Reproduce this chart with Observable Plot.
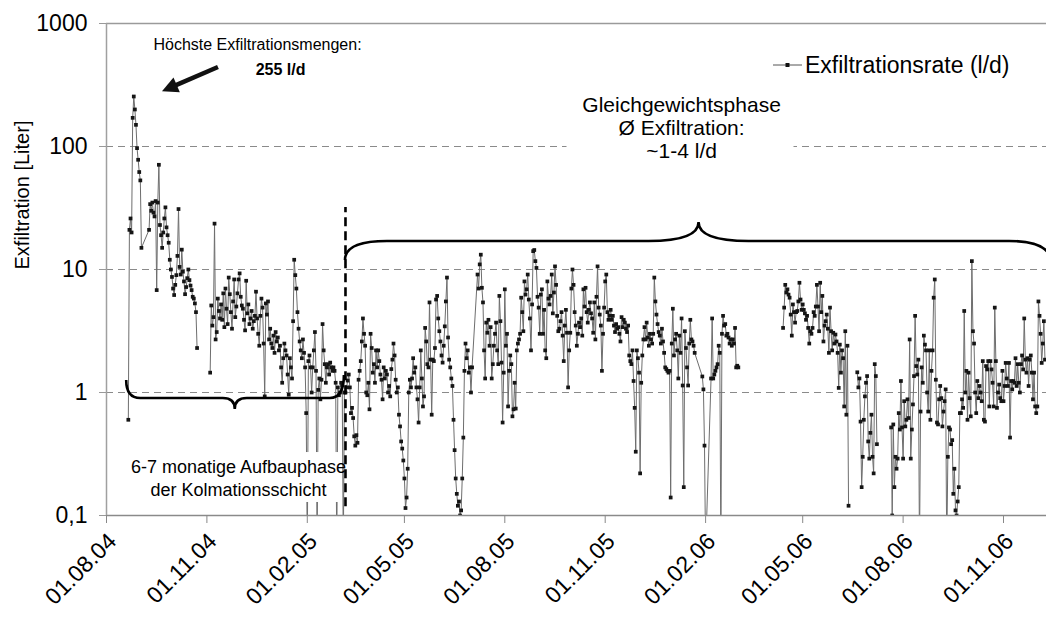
<!DOCTYPE html>
<html><head><meta charset="utf-8">
<script src="https://cdn.jsdelivr.net/npm/d3@7"></script>
<script src="https://cdn.jsdelivr.net/npm/@observablehq/plot@0.6"></script>
<style>
html,body{margin:0;padding:0;background:#fff;}
#chart{width:1046px;height:619px;}
</style></head><body><div id="chart"></div>
<script>
// ---------- data ----------
const baseDate = "2004-08-01";          // day 0 of the day offsets below
const lastDay = 861.4;                  // right end of the date axis (day offset)
const xTickDates = ["2004-08-01","2004-11-01","2005-02-01","2005-05-01","2005-08-01","2005-11-01","2006-02-01","2006-05-01","2006-08-01","2006-11-01"];
const xTickLabels = ["01.08.04","01.11.04","01.02.05","01.05.05","01.08.05","01.11.05","01.02.06","01.05.06","01.08.06","01.11.06"];
const yTicks = [0.1, 1, 10, 100, 1000];
const yTickLabels = ["0,1", "1", "10", "100", "1000"];
const seriesName = "Exfiltrationsrate (l/d)";
const yTitle = "Exfiltration [Liter]";

// [day offset from baseDate, Exfiltration in l/d]; 0.05 = below the axis (0)
const segA = [[20,0.6],[21,21],[22,26],[23,20],[24,171],[25,255],[26,200],[27,150],[28,97],[29,78],[30,62],[31,53],[32,15],
[39,21],[40,34],[41,30],[42,35],[43,29],[44,27],[45,36],[46,6.8],[47,35],[48,71],[49,23],[50,19],[51,15],[52,20],[53,26],[54,32],[55,22],[56,19],[57,16.5],[58,12],[59,10],[60,8.7],[61,7],[62,6.2],[63,7.5],[64,9],[65,12.9],[66,31],[67,10.5],[68,9.1],[69,14.5],[70,9.6],[71,8],[72,6.3],[73,7.2],[74,8.5],[75,10],[76,8.2],[77,7.4],[78,6.8],[79,6],[80,5.8],[81,5.3],[82,4.5],[83,2.3]];

const segB = [[95,1.45],[96,5.1],[97,3.5],[98,4.1],[99,23.6],[100,2.7],[101,3.1],[102,5.8],[103,4.6],[104,4.0],[105,5.2],[106,3.9],[107,6.4],[108,3.4],[109,7.0],[110,4.8],[111,3.6],[112,8.6],[113,6.3],[114,4.5],[115,3.3],[116,5.5],[117,8.3],[118,4.1],[119,5.0],[120,6.4],[121,8.3],[122,9.3],[123,6.0],[124,5.1],[125,4.8],[126,3.9],[127,3.2],[128,8.1],[129,4.4],[130,5.2],[131,3.6],[132,4.0],[133,4.6],[134,3.3],[135,3.8],[136,4.2],[137,6.6],[138,4.0],[139,3.0],[140,2.4],[141,4.2],[142,5.8],[143,4.9],[144,2.5],[145,0.93],[146,5.3],[147,4.3],[148,5.5],[149,2.7],[150,3.3],[151,2.5],[152,2.3],[153,2.9],[154,2.1],[155,3.1],[156,2.6],[157,2.8],[158,2.2],[159,2.4],[160,1.6],[161,1.2],[162,1.9],[163,2.5],[164,2.2],[165,2.0],[166,1.4],[167,0.96],[168,1.9],[169,1.6],[170,1.3],[171,3.8],[172,12],[173,9],[174,7.0],[175,4.5],[176,3.3],[177,2.6],[178,2.2],[179,1.9],[180,2.7],[181,2.1],[182,1.6],[183,0.68],[184,0.05],[185,1.8],[186,2.0],[187,1.6],[188,1.0],[189,1.6],[190,2.2],[191,3.1],[192,1.5],[193,0.05],[194,1.05],[195,1.3],[196,0.88],[197,1.27],[198,3.6],[199,2.2],[200,1.7],[201,1.2],[202,1.6],[203,1.7],[204,1.4],[205,1.75],[206,1.6],[207,1.5],[208,1.6],[209,1.5],[210,1.2],[211,0.05],[212,1.1],[213,0.95],[214,1.0],[215,1.2],[216,1.15],[217,0.05],
[218,1.0],[219,1.0],[220,1.1],[221,1.25],[222,1.4],[223,1.1],[224,0.68],[225,0.75],[226,0.62],[227,0.44],[228,0.37],[229,0.45],[230,0.39],[231,1.27],[232,1.5],[233,1.8],[234,2.6],[235,4.0],[236,3.0],[237,2.4],[238,1.0],[239,0.95],[240,1.2],[241,0.73],[242,3.0],[243,2.3],[244,1.45],[245,1.7],[246,1.2],[247,2.2],[248,1.6],[249,2.2],[250,1.8],[251,1.4],[252,1.27],[253,0.88],[254,1.6],[255,1.3],[256,1.5],[257,1.4],[258,1.0],[259,1.13],[260,0.93],[261,1.55],[262,1.85],[263,2.5],[264,2.0],[265,1.27],[266,1.0],[267,1.1],[268,0.66],[269,0.53],[270,0.4],[271,0.35],[272,0.28],[273,0.2],[274,0.115],[275,0.14],[276,0.24],[277,1.0],[278,1.27],[279,1.1],[280,1.3],[281,1.9],[282,1.45],[283,1.6],[284,1.1],[285,0.88],[286,0.57],[287,1.1],[288,2.2],[289,1.3],[290,0.77],[291,0.93],[292,3.35],[293,2.6],[294,1.7],[295,1.6],[296,5.4],[297,1.85],[298,0.66],[299,1.85],[300,1.8],[301,2.3],[302,5.7],[303,6.1],[304,4.0],[305,3.15],[306,2.6],[307,2.0],[308,1.75],[309,2.4],[310,3.45],[311,5.5],[312,8.6],[313,2.8],[314,1.85],[315,1.6],[316,1.3],[317,1.13],[318,0.6],[319,0.34],[320,0.2],[321,0.15],[322,0.12],[323,0.13],[324,0.1],[325,0.11],[326,0.2],[327,0.43],[328,1.5],[329,2.5],[330,1.9],[331,2.2],[332,1.45],[333,1.6],[334,1.0],[335,1.6],
[340,9.1],[341,7],[342,11],[343,13.2],[344,7.1],[345,5.4],[346,2.2],[347,1.3],[348,3.7],[349,3.06],[350,3.9],[351,2.4],[352,3.4],[353,1.3],[354,1.7],[355,2.4],[356,3.0],[357,3.7],[358,2.2],[359,1.7],[360,6.1],[361,3.8],[362,1.75],[363,0.57],[364,1.45],[365,6.9],[366,2.4],[367,3.0],[368,0.77],[369,1.5],[370,2.0],[371,1.7],[372,0.64],[373,0.73],[374,1.2],[375,0.74],[376,2.2],[377,2.5],[378,2.7],[379,3.0],[380,5.9],[381,4.5],[382,3.15],[383,8.0],[384,6.25],[385,6.9],[386,9.1],[387,5.7],[388,4.0],[389,2.2],[390,5.2],[391,14.1],[392,14.4],[393,11.7],[394,10.3],[395,6.0],[396,4.9],[397,3.0],[398,6.25],[399,6.9],[400,3.0],[401,4.7],[402,2.2],[403,1.9],[404,8.0],[405,5.8],[406,5.2],[407,6.1],[408,9.1],[409,4.4],[410,6.5],[411,10.6],[412,7.5],[413,4.2],[414,3.15],[415,3.3],[416,3.8],[417,4.5],[418,2.9],[419,1.8],[420,3.5],[421,4.7],[422,3.06],[423,1.1],[424,2.2],[425,3.06],[426,7.0],[427,10],[428,7.5],[429,4.5],[430,3.5],[431,2.4],[432,3.0],[433,3.7],[434,3.4],[435,4.0],[436,2.9],[437,6.9],[438,5.0],[439,7.1],[440,4.5],[441,3.7],[442,4.7],[443,5.4],[444,4.4],[445,4.0],[446,3.06],[447,5.4],[448,2.7],[449,6.0],[450,10.6],[451,4.9],[452,4.3],[453,3.5],[454,1.5],[455,3.0],[456,4.9],[457,8.0],[458,9.1],[459,4.5],[460,3.9],[461,4.2],[462,4.7],[463,3.9],[464,4.2],[465,3.5],[466,3.1],[467,3.6],[468,3.3],[469,3.4],[470,3.0],[471,2.6],[472,4.1],[473,3.4],[474,3.9],[475,3.7],[476,3.3],[477,3.1],[478,3.5],[479,2.0],[480,1.8],[481,1.7],[482,2.2],[483,1.24],[484,0.75],[485,0.33],[486,2.2],[487,1.9],[488,1.45],[489,0.22],[490,1.2],[491,2.0],[492,2.7],[493,3.4],[494,2.7],[495,3.7],[496,2.8],[497,2.4],[498,3.0],[499,2.7],[500,2.5],[501,3.0],[502,8.6],[503,5.5],[504,4.3],[505,3.6],[506,3.1],[507,2.9],[508,2.5],[509,3.3],[510,2.6],[511,2.1],[512,1.6],[513,1.55],[514,1.5],[515,1.45],[516,1.5],[517,0.14],[518,2.5],[519,4.8],[520,2.0],[521,2.7],[522,3.0],[523,2.2],[524,1.3],[525,2.9],[526,2.1],[527,4.0],[528,1.14],[529,0.17],[530,3.15],[531,2.3],[532,1.6],[533,1.14],[534,2.5],[535,3.9],[536,2.7],[537,2.6],[538,2.4],[539,2.1],
[546,1.35],[547,1.06],[548,0.37],[549,0.05],[554,1.3],[555,4.0],[556,1.3],[557,1.4],[558,1.5],[559,1.6],[560,1.7],[561,2.4],[562,2.1],[563,0.05],[564,3.0],[565,4.2],[566,3.5],[567,3.6],[568,2.9],[569,3.0],[570,2.8],[571,2.5],[572,2.7],[573,2.4],[574,2.7],[575,2.5],[576,3.35],[577,1.6],[578,1.65],[579,1.6]];

const segC1 = [[620,3.35],[621,4.9],[622,7.5],[623,6.5],[624,6.9],[625,6.25],[626,5.9],[627,4.3],[628,2.9],[629,5.2],[630,4.5],[631,3.7],[632,4.5],[633,4.6],[634,5.5],[635,7.8],[636,5.7],[637,4.7],[638,5.2],[639,4.7],[640,4.4],[641,3.9],[642,4.2],[643,3.35],[644,2.5],[645,3.15],[646,3.0],[647,3.35],[648,4.5],[649,4.2],[650,5.0],[651,7.5],[652,5.0],[653,3.15],[654,7.8],[655,4.5],[656,6.1],[657,2.6],[658,3.5],[659,3.8],[660,4.3],[661,3.3],[662,2.1],[663,4.9],[664,3.15],[665,2.2],[666,3.06],[667,2.5],[668,2.96],[669,2.6],[670,2.1],[671,1.09],[672,2.45],[673,1.45],[674,2.2],[675,1.9],[676,0.77],[677,3.15],[678,0.66],[679,2.4],[680,0.12]];

const segC2 = [[688,1.46],[689,1.1],[690,1.3],[691,0.58],[692,0.17],[693,0.3],[694,0.6],[695,0.93],[696,1.2],[697,1.36],[698,0.4],[699,0.29],[700,0.47],[701,0.66],[702,0.3],[703,0.22],[704,1.7],[705,1.36],[706,0.38]];

const segC3 = [[719,0.52],[720,0.1],[721,0.55],[722,0.17],[723,0.3],[724,0.24],[725,0.29],[726,0.68],[727,0.5],[728,1.24],[729,0.52],[730,0.29],[731,0.85],[732,0.53],[733,0.6],[734,0.88],[735,0.62],[736,2.7],[737,0.29],[738,0.5],[739,0.8],[740,1.36],[741,4.2],[742,1.64],[743,1.4],[744,1.85],[745,0.05],[746,0.7],[747,1.6],[748,1.2],[749,2.9],[750,2.45],[751,2.2],[752,1.0],[753,0.7],[754,2.2],[755,0.6],[756,1.5],[757,2.2],[758,5.9],[759,8.3],[760,1.27],[761,0.57],[762,0.55],[763,0.88],[764,1.13],[765,0.9],[766,0.53],[767,0.7],[768,0.85],[769,1.06],[770,0.05],[771,0.3],[772,0.52],[773,0.5],[774,0.38],[775,0.41],[776,0.15],[777,0.24],[778,0.11],[779,0.1],[780,0.13],[781,0.17],[782,0.68],[783,0.68],[784,0.88],[785,0.75],[786,4.6],[787,1.0],[788,1.5],[789,0.6],[790,1.45],[791,0.9],[792,0.64],[793,11.7],[794,3.15],[795,2.5],[796,1.0],[797,0.68],[798,1.24],[799,0.9],[800,1.13],[801,1.0],[802,0.85],[803,1.8],[804,0.6],[805,0.58],[806,1.64],[807,1.54],[808,1.8],[809,0.77],[810,1.8],[811,1.54],[812,1.2],[813,0.77],[814,4.9],[815,1.8],[816,0.75],[817,1.0],[818,1.16],[819,0.9],[820,0.85],[821,1.5],[822,0.85],[823,1.13],[824,1.74],[825,1.3],[826,1.13],[827,1.74],[828,0.43],[829,1.24],[830,1.06],[831,1.24],[832,1.2],[833,1.9],[834,1.13],[835,1.7],[836,1.2],[837,1.0],[838,1.7],[839,2.0],[840,1.54],[841,4.0],[842,1.85],[843,1.45],[844,1.9],[845,1.13],[846,1.85],[847,2.0],[848,1.45],[849,0.88],[850,1.45],[851,0.77],[852,0.68],[853,0.77],[854,5.5],[855,4.2],[856,3.0],[857,1.74],[858,2.5],[859,3.8],[860,1.85]];

// annotations in data coordinates: [day offset, value]
const annHoechst = {day: 138.4, v: 675, text: "Höchste Exfiltrationsmengen:"};
const annPeak = {day: 159.5, v: 423, text: "255 l/d"};
const annGleich = {day: 527, v: 143, text: "Gleichgewichtsphase\nØ Exfiltration:\n~1-4 l/d"};
const annAufbau = {day: 121, v: 0.2056, text: "6-7 monatige Aufbauphase\nder Kolmationsschicht"};
const boxGleich = {d1: 422, d2: 630, v1: 76, v2: 302};
const boxAufbau = {d1: 11, d2: 215.4, v1: 0.1276, v2: 0.325};
const phaseSplitDay = 219;  const phaseSplitRange = [0.118, 31.9];
const braceLow = {x1: 18.5, xm: 118, x2: 218, y: 0.894, dir: 1, endR: 14, endH1: 18, endH2: 23, midR: 12, tipH: 11};
const braceHigh = {x1: 219, xm: 543, x2: 866, y: 16.9, dir: -1, endR: 42, endH1: 19, endH2: 22, midR: 50, tipH: 19};
const arrowAnn = {from: [102.6, 439], to: [51.3, 279]};

// ---------- build ----------
const base = new Date(baseDate);
const dayDate = d => new Date(base.getTime() + d * 864e5);
const series = [["A", segA], ["B", segB], ["C1", segC1], ["C2", segC2], ["C3", segC3]];
const rows = series.flatMap(([name, seg]) => seg.map(([d, v]) => ({date: dayDate(d), value: v, seg: name})));

function braceMark(b) {
  return (index, scales) => {
    const sx = scales.x, sy = scales.y;
    const x1 = sx(dayDate(b.x1)), xm = sx(dayDate(b.xm)), x2 = sx(dayDate(b.x2)), yl = sy(b.y), s = b.dir;
    const p = `M${x1},${yl - s*b.endH1} Q${x1},${yl} ${x1 + b.endR},${yl} L${xm - b.midR},${yl} Q${xm},${yl} ${xm},${yl + s*b.tipH} Q${xm},${yl} ${xm + b.midR},${yl} L${x2 - b.endR},${yl} Q${x2},${yl} ${x2},${yl - s*b.endH2}`;
    const g = d3.create("svg:g");
    g.append("path").attr("d", p).attr("fill", "none").attr("stroke", "black").attr("stroke-width", 2.6);
    return g.node();
  };
}
function arrowMark(a) {
  return (index, scales) => {
    const x0 = scales.x(dayDate(a.from[0])), y0 = scales.y(a.from[1]);
    const x1 = scales.x(dayDate(a.to[0])), y1 = scales.y(a.to[1]);
    const L = Math.hypot(x1 - x0, y1 - y0), ux = (x1 - x0) / L, uy = (y1 - y0) / L;
    const hl = 16, hw = 8;
    const bx = x1 - ux*hl, by = y1 - uy*hl;
    const g = d3.create("svg:g");
    g.append("line").attr("x1", x0).attr("y1", y0).attr("x2", bx + ux*2).attr("y2", by + uy*2).attr("stroke", "#111").attr("stroke-width", 4.5);
    g.append("path").attr("d", `M${x1},${y1} L${bx - uy*hw},${by + ux*hw} L${bx + uy*hw},${by - ux*hw} Z`).attr("fill", "#111");
    return g.node();
  };
}
function legendMark() {
  return (index, scales, values, dims) => {
    const x0 = dims.width - 273, y0 = dims.marginTop + 42;
    const g = d3.create("svg:g");
    g.append("line").attr("x1", x0).attr("x2", x0 + 29).attr("y1", y0).attr("y2", y0).attr("stroke", "#555").attr("stroke-width", 1);
    g.append("rect").attr("x", x0 + 12.5).attr("y", y0 - 2).attr("width", 4).attr("height", 4).attr("fill", "#111");
    g.append("text").attr("x", x0 + 32).attr("y", y0).attr("dy", "0.35em").attr("text-anchor", "start").attr("font-size", 23).attr("fill", "black").text(seriesName);
    return g.node();
  };
}

const chart = Plot.plot({
  width: 1046, height: 619,
  marginLeft: 106, marginRight: 0, marginTop: 23, marginBottom: 104,
  style: {fontFamily: "'Liberation Sans', Arial, sans-serif", background: "white", overflow: "hidden"},
  x: {type: "utc", domain: [base, dayDate(lastDay)], axis: null},
  y: {type: "log", domain: [0.1, 1000], axis: null},
  marks: [
    Plot.ruleY([1, 10, 100], {stroke: "#8a8a8a", strokeWidth: 1, strokeDasharray: "7,5"}),
    Plot.ruleY([1000], {stroke: "#9a9a9a", strokeWidth: 1.5}),
    Plot.line(rows, {x: "date", y: "value", z: "seg", stroke: "#6e6e6e", strokeWidth: 1, clip: true}),
    Plot.dot(rows, {x: "date", y: "value", symbol: "square", r: 2.1, fill: "#151515", stroke: "none", clip: true}),
    Plot.rect([boxGleich, boxAufbau], {x1: d => dayDate(d.d1), x2: d => dayDate(d.d2), y1: "v1", y2: "v2", fill: "white"}),
    Plot.ruleY([0.1], {stroke: "#8a8a8a", strokeWidth: 1.5}),
    Plot.ruleX([base], {stroke: "#a0a0a0", strokeWidth: 1.5}),
    Plot.axisY({ticks: yTicks, tickFormat: (d, i) => yTickLabels[yTicks.indexOf(d)], tickSize: 7, tickPadding: 12, fontSize: 23, stroke: "#999", fill: "black", label: null}),
    Plot.axisX({ticks: xTickDates.map(d => new Date(d)), tickFormat: () => "", tickSize: 8, stroke: "#888", label: null}),
    Plot.text(xTickDates, {x: d => new Date(d), frameAnchor: "bottom", text: (d, i) => xTickLabels[i], rotate: -45, textAnchor: "end", lineAnchor: "middle", dx: 6, dy: 22, fontSize: 23, fill: "black"}),
    Plot.text([yTitle], {frameAnchor: "left", dx: -84, rotate: -90, fontSize: 20, fill: "black"}),
    Plot.text([annHoechst], {x: d => dayDate(d.day), y: "v", text: "text", fontSize: 16, fill: "black"}),
    Plot.text([annPeak], {x: d => dayDate(d.day), y: "v", text: "text", fontSize: 16, fontWeight: "bold", fill: "black"}),
    Plot.text([annGleich], {x: d => dayDate(d.day), y: "v", text: "text", fontSize: 21, lineHeight: 1.1, fill: "black"}),
    Plot.text([annAufbau], {x: d => dayDate(d.day), y: "v", text: "text", fontSize: 18, lineHeight: 1.28, fill: "black"}),
    braceMark(braceLow),
    braceMark(braceHigh),
    Plot.ruleX([phaseSplitDay], {x: d => dayDate(d), y1: phaseSplitRange[0], y2: phaseSplitRange[1], stroke: "black", strokeWidth: 2.6, strokeDasharray: "9,5"}),
    arrowMark(arrowAnn),
    legendMark()
  ]
});
document.getElementById("chart").appendChild(chart);
</script>
</body></html>
